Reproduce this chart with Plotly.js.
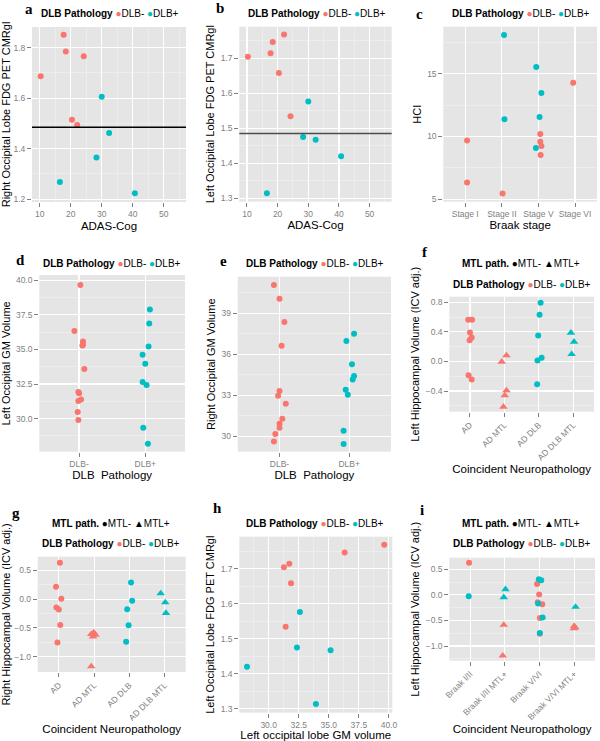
<!DOCTYPE html>
<html><head><meta charset="utf-8">
<script src="https://cdn.plot.ly/plotly-3.0.1.min.js"></script>
<style>html,body{margin:0;padding:0;background:#fff}#chart{width:600px;height:741px}</style>
</head><body><div id="chart"></div>
<script>
// ---------------- DATA ----------------
const RED = '#F8766D', CYAN = '#00BFC4';
// a/b/h : PET subset (DLB- then DLB+)
const adasNeg = [10.3, 17.7, 18.4, 24.2, 20.4, 22.1];
const adasPos = [30.0, 32.4, 28.3, 16.5, 40.7];
const rOccFdgNeg = [1.687, 1.851, 1.785, 1.766, 1.515, 1.494];
const rOccFdgPos = [1.606, 1.462, 1.365, 1.268, 1.224];
const lOccFdgNeg = [1.704, 1.714, 1.746, 1.534, 1.658, 1.768];
const lOccFdgPos = [1.576, 1.467, 1.475, 1.314, 1.420];
const lOccGmPetNeg = [31.27, 31.72, 36.32, 31.41, 31.86, 39.61];
const lOccGmPetPos = [32.60, 35.15, 32.35, 33.93, 28.20];
const fdgThreshold = [1.485];

// c : Braak stage vs HCI
const braakCats = ['Stage I', 'Stage II', 'Stage V', 'Stage VI'];
const cNegCat = ['Stage I','Stage I','Stage II','Stage V','Stage V','Stage V','Stage V','Stage VI'];
const cNegJit = [0.05, 0.05, 0.02, 0.05, 0.05, 0.08, 0.06, -0.05];
const cNegHci = [9.68, 6.33, 5.45, 10.19, 9.57, 9.23, 8.51, 14.28];
const cPosCat = ['Stage II','Stage II','Stage V','Stage V','Stage V','Stage V'];
const cPosJit = [0.06, 0.07, -0.06, 0.08, 0.03, -0.07];
const cPosHci = [18.09, 11.36, 15.53, 13.46, 11.54, 9.07];

// d/e : GM volume by DLB pathology
const dlbCats = ['DLB-', 'DLB+'];
const dNegJit = [0.02, -0.07, 0.06, 0.06, 0.05, 0.08, 0.0, -0.01, 0.03, -0.01, -0.02, -0.01];
const dNegVal = [39.66, 36.34, 35.58, 35.34, 35.29, 33.58, 31.83, 31.92, 31.37, 31.27, 30.48, 29.90];
const dPosJit = [0.07, 0.06, 0.05, -0.04, 0.0, -0.04, 0.02, -0.03, 0.04];
const dPosVal = [37.89, 36.88, 35.22, 34.61, 33.96, 32.64, 32.42, 29.33, 28.17];
const eNegJit = [-0.08, 0.0, 0.07, 0.03, 0.0, -0.02, 0.09, 0.04, 0.0, 0.0, -0.06, -0.08];
const eNegVal = [41.07, 40.07, 38.37, 36.63, 33.32, 32.98, 32.39, 31.29, 30.93, 30.63, 30.17, 29.63];
const ePosJit = [0.07, -0.04, 0.04, 0.07, 0.05, -0.05, -0.02, -0.08, -0.08];
const ePosVal = [37.51, 36.98, 35.27, 34.41, 34.17, 33.41, 33.05, 30.41, 29.44];

// f/g : Coincident neuropathology
const neuroCats = ['AD', 'AD MTL', 'AD DLB', 'AD DLB MTL'];
const fNegMtlNegCat = ['AD','AD','AD','AD','AD','AD','AD'];
const fNegMtlNegJit = [-0.05, 0.06, 0.0, 0.05, -0.01, -0.04, 0.05];
const fNegMtlNegVal = [0.565, 0.565, 0.393, 0.325, 0.289, -0.185, -0.244];
const fNegMtlPosCat = ['AD MTL','AD MTL','AD MTL','AD MTL','AD MTL'];
const fNegMtlPosJit = [0.06, -0.08, 0.06, 0.01, -0.03];
const fNegMtlPosVal = [0.081, -0.005, -0.392, -0.46, -0.613];
const fPosMtlNegCat = ['AD DLB','AD DLB','AD DLB','AD DLB','AD DLB','AD DLB'];
const fPosMtlNegJit = [0.05, 0.02, -0.02, 0.08, -0.04, -0.05];
const fPosMtlNegVal = [0.794, 0.631, 0.352, 0.05, 0.014, -0.307];
const fPosMtlPosCat = ['AD DLB MTL','AD DLB MTL','AD DLB MTL'];
const fPosMtlPosJit = [-0.07, 0.02, -0.05];
const fPosMtlPosVal = [0.388, 0.266, 0.099];

const gNegMtlNegCat = ['AD','AD','AD','AD','AD','AD','AD'];
const gNegMtlNegJit = [0.03, -0.08, 0.07, -0.07, 0.0, 0.04, -0.04];
const gNegMtlNegVal = [0.633, 0.214, 0.006, -0.145, -0.18, -0.448, -0.753];
const gNegMtlPosCat = ['AD MTL','AD MTL','AD MTL','AD MTL','AD MTL'];
const gNegMtlPosJit = [-0.01, -0.08, 0.04, -0.03, -0.08];
const gNegMtlPosVal = [-0.58, -0.61, -0.62, -0.65, -1.17];
const gPosMtlNegCat = ['AD DLB','AD DLB','AD DLB','AD DLB','AD DLB'];
const gPosMtlNegJit = [0.05, 0.08, -0.06, -0.02, -0.09];
const gPosMtlNegVal = [0.29, -0.03, -0.174, -0.452, -0.741];
const gPosMtlPosCat = ['AD DLB MTL','AD DLB MTL','AD DLB MTL'];
const gPosMtlPosJit = [-0.11, 0.02, 0.04];
const gPosMtlPosVal = [0.098, -0.058, -0.243];

// i : Braak / MTL groups
const braakMtlCats = ['Braak I/II', 'Braak I/II MTL+', 'Braak V/VI', 'Braak V/VI MTL+'];
const iNegMtlNegCat = ['Braak I/II','Braak V/VI','Braak V/VI','Braak V/VI','Braak V/VI','Braak V/VI','Braak V/VI'];
const iNegMtlNegJit = [-0.03, -0.07, -0.01, -0.05, 0.08, 0.01, 0.01];
const iNegMtlNegVal = [0.63, 0.215, 0.007, -0.143, -0.183, -0.45, -0.76];
const iNegMtlPosCat = ['Braak I/II MTL+','Braak I/II MTL+','Braak V/VI MTL+','Braak V/VI MTL+','Braak V/VI MTL+'];
const iNegMtlPosJit = [-0.03, -0.06, 0.0, -0.01, 0.03];
const iNegMtlPosVal = [-0.587, -1.19, -0.61, -0.655, -0.64];
const iPosMtlNegCat = ['Braak I/II','Braak V/VI','Braak V/VI','Braak V/VI','Braak V/VI','Braak V/VI'];
const iPosMtlNegJit = [-0.04, -0.02, 0.05, -0.04, 0.09, 0.01];
const iPosMtlNegVal = [-0.026, 0.306, 0.287, -0.17, -0.443, -0.743];
const iPosMtlPosCat = ['Braak I/II MTL+','Braak I/II MTL+','Braak V/VI MTL+'];
const iPosMtlPosJit = [0.02, -0.03, 0.04];
const iPosMtlPosVal = [0.11, -0.046, -0.235];

// ---------------- BUILD ----------------
const W = 600, H = 741;
const FONT = '"Liberation Sans", Arial, sans-serif';
const traces = [];
const layout = {
  width: W, height: H, margin: {l:0, r:0, t:0, b:0},
  paper_bgcolor: '#ffffff', plot_bgcolor: '#E5E5E5',
  font: {family: FONT, size: 9, color: '#000'},
  showlegend: false, annotations: [], shapes: []
};

function catX(cats, catList, jit) {
  return cats.map((c, k) => catList.indexOf(c) + 1 + jit[k]);
}
function pts(p, xs, ys, color, symbol) {
  traces.push({
    type: 'scatter', mode: 'markers', x: xs, y: ys,
    xaxis: p === 1 ? 'x' : 'x' + p, yaxis: p === 1 ? 'y' : 'y' + p,
    marker: {color: color, size: symbol === 'triangle-up' ? 7.5 : 6, symbol: symbol || 'circle', line: {width: 0}},
    showlegend: false, hoverinfo: 'skip', cliponaxis: false
  });
}
function baseAxis(extra) {
  return Object.assign({
    showgrid: true, gridcolor: '#FFFFFF', gridwidth: 1.1, zeroline: false, showline: false,
    ticks: 'outside', ticklen: 4, tickwidth: 1, tickcolor: '#7F7F7F',
    tickfont: {family: FONT, size: 8.5, color: '#7F7F7F'}, fixedrange: true
  }, extra);
}
function minor(dt, t0) {
  return {dtick: dt, tick0: t0, showgrid: true, gridcolor: '#F2F2F2', gridwidth: 0.6, ticks: ''};
}
function panel(p, box, xa, ya) {
  const [x0, x1, y0, y1] = box; // pixels: left, right, top, bottom
  const xk = p === 1 ? 'xaxis' : 'xaxis' + p, yk = p === 1 ? 'yaxis' : 'yaxis' + p;
  layout[xk] = baseAxis(Object.assign({domain: [x0 / W, x1 / W], anchor: p === 1 ? 'y' : 'y' + p}, xa));
  layout[yk] = baseAxis(Object.assign({domain: [1 - y1 / H, 1 - y0 / H], anchor: p === 1 ? 'x' : 'x' + p}, ya));
}
function xt(t) { return {text: t, font: {family: FONT, size: 11.5, color: '#000'}, standoff: 3}; }
function yt(t) { return {text: t, font: {family: FONT, size: 11, color: '#000'}, standoff: 3}; }
function catAxis(list, rot) {
  const o = {tickmode: 'array', tickvals: list.map((_, k) => k + 1), ticktext: list, range: [0.4, list.length + 0.6]};
  if (rot) o.tickangle = -45;
  return o;
}
function label(letter, x, y) {
  layout.annotations.push({text: '<b>' + letter + '</b>', x: x / W, y: 1 - y / H, xref: 'paper', yref: 'paper',
    showarrow: false, xanchor: 'center', yanchor: 'middle', font: {family: '"Liberation Serif", serif', size: 15, color: '#000'}});
}
function legendDlb(x, y) {
  layout.annotations.push({
    text: '<b>DLB Pathology</b> <span style="color:' + RED + '">●</span>DLB- <span style="color:' + CYAN + '">●</span>DLB+',
    x: x / W, y: 1 - y / H, xref: 'paper', yref: 'paper', showarrow: false, xanchor: 'center', yanchor: 'middle',
    font: {family: FONT, size: 10, color: '#000'}});
}
function legendMtl(x, y) {
  layout.annotations.push({
    text: '<b>MTL path.</b> ●MTL- ▲MTL+',
    x: x / W, y: 1 - y / H, xref: 'paper', yref: 'paper', showarrow: false, xanchor: 'center', yanchor: 'middle',
    font: {family: FONT, size: 10, color: '#000'}});
}
function hline(p, val, color) {
  layout.shapes.push({type: 'line', xref: (p === 1 ? 'x' : 'x' + p) + ' domain', x0: 0, x1: 1,
    yref: p === 1 ? 'y' : 'y' + p, y0: val, y1: val, line: {color: color, width: 1.6}});
}

// Panel a
panel(1, [32, 186, 27, 202],
  {range: [7.5, 57.2], tick0: 10, dtick: 10, minor: minor(5, 5), title: xt('ADAS-Cog')},
  {range: [1.189, 1.882], tick0: 1.2, dtick: 0.2, tickformat: '.1f', minor: minor(0.1, 1.1), title: yt('Right Occipital Lobe FDG PET CMRgl')});
pts(1, adasNeg, rOccFdgNeg, RED); pts(1, adasPos, rOccFdgPos, CYAN);
hline(1, fdgThreshold[0], '#000000');
label('a', 29, 9); legendDlb(110, 13);

// Panel b
panel(2, [239.3, 391.7, 26.7, 201.7],
  {range: [7.5, 57.2], tick0: 10, dtick: 10, minor: minor(5, 5), title: xt('ADAS-Cog')},
  {range: [1.290, 1.790], tick0: 1.3, dtick: 0.1, tickformat: '.1f', minor: minor(0.05, 1.25), title: yt('Left Occipital Lobe FDG PET CMRgl')});
pts(2, adasNeg, lOccFdgNeg, RED); pts(2, adasPos, lOccFdgPos, CYAN);
hline(2, fdgThreshold[0], '#4D4D4D');
label('b', 220, 8); legendDlb(317, 14);

// Panel c
panel(3, [443.3, 597, 26.7, 201.7],
  Object.assign(catAxis(braakCats, false), {showgrid: true, title: xt('Braak stage')}),
  {range: [4.79, 18.75], tick0: 5, dtick: 5, minor: minor(2.5, 2.5), title: yt('HCI')});
pts(3, catX(cNegCat, braakCats, cNegJit), cNegHci, RED);
pts(3, catX(cPosCat, braakCats, cPosJit), cPosHci, CYAN);
label('c', 419, 14); legendDlb(521, 14);

// Panel d
panel(4, [39.3, 185, 275, 451.7],
  Object.assign(catAxis(dlbCats, false), {title: xt('DLB  Pathology')}),
  {range: [27.6, 40.39], tick0: 30, dtick: 2.5, tickformat: '.1f', minor: minor(1.25, 26.25), title: yt('Left Occipital GM Volume')});
pts(4, dNegJit.map(j => 1 + j), dNegVal, RED);
pts(4, dPosJit.map(j => 2 + j), dPosVal, CYAN);
label('d', 20, 260); legendDlb(112, 263);

// Panel e
panel(5, [237.7, 391, 276.7, 451.7],
  Object.assign(catAxis(dlbCats, false), {title: xt('DLB  Pathology')}),
  {range: [28.88, 41.68], tick0: 30, dtick: 3, minor: minor(1.5, 28.5), title: yt('Right Occipital GM Volume')});
pts(5, eNegJit.map(j => 1 + j), eNegVal, RED);
pts(5, ePosJit.map(j => 2 + j), ePosVal, CYAN);
label('e', 223, 261); legendDlb(315, 263);

// Panel f
panel(6, [449.3, 594, 296.7, 411.7],
  Object.assign(catAxis(neuroCats, true), {title: xt('Coincident Neuropathology')}),
  {range: [-0.68, 0.877], tick0: -0.4, dtick: 0.4, tickformat: '.1f', minor: minor(0.2, -0.6), title: yt('Left Hippocampal Volume (ICV adj.)')});
pts(6, catX(fNegMtlNegCat, neuroCats, fNegMtlNegJit), fNegMtlNegVal, RED);
pts(6, catX(fNegMtlPosCat, neuroCats, fNegMtlPosJit), fNegMtlPosVal, RED, 'triangle-up');
pts(6, catX(fPosMtlNegCat, neuroCats, fPosMtlNegJit), fPosMtlNegVal, CYAN);
pts(6, catX(fPosMtlPosCat, neuroCats, fPosMtlPosJit), fPosMtlPosVal, CYAN, 'triangle-up');
label('f', 425, 252); legendMtl(521, 263); legendDlb(522, 284);

// Panel g
panel(7, [37.7, 185.7, 556.7, 672],
  Object.assign(catAxis(neuroCats, true), {title: xt('Coincident Neuropathology')}),
  {range: [-1.266, 0.737], tick0: -1, dtick: 0.5, tickformat: '.1f', minor: minor(0.25, -1.25), title: yt('Right Hippocampal Volume (ICV adj.)')});
pts(7, catX(gNegMtlNegCat, neuroCats, gNegMtlNegJit), gNegMtlNegVal, RED);
pts(7, catX(gNegMtlPosCat, neuroCats, gNegMtlPosJit), gNegMtlPosVal, RED, 'triangle-up');
pts(7, catX(gPosMtlNegCat, neuroCats, gPosMtlNegJit), gPosMtlNegVal, CYAN);
pts(7, catX(gPosMtlPosCat, neuroCats, gPosMtlPosJit), gPosMtlPosVal, CYAN, 'triangle-up');
label('g', 16, 513); legendMtl(111, 523); legendDlb(111, 543);

// Panel h
panel(8, [239.3, 392.3, 536.7, 712.7],
  {range: [27.56, 40.28], tick0: 30, dtick: 2.5, tickformat: '.1f', minor: minor(1.25, 26.25), title: xt('Left occipital lobe GM volume')},
  {range: [1.289, 1.791], tick0: 1.3, dtick: 0.1, tickformat: '.1f', minor: minor(0.05, 1.25), title: yt('Left Occipital Lobe FDG PET CMRgl')});
pts(8, lOccGmPetNeg, lOccFdgNeg, RED); pts(8, lOccGmPetPos, lOccFdgPos, CYAN);
label('h', 217, 508); legendDlb(315, 523);

// Panel i
panel(9, [449.3, 595, 557.7, 660.7],
  Object.assign(catAxis(braakMtlCats, true), {title: xt('Coincident Neuropathology')}),
  {range: [-1.287, 0.728], tick0: -1, dtick: 0.5, tickformat: '.1f', minor: minor(0.25, -1.25), title: yt('Left Hippocampal Volume (ICV adj.)')});
pts(9, catX(iNegMtlNegCat, braakMtlCats, iNegMtlNegJit), iNegMtlNegVal, RED);
pts(9, catX(iNegMtlPosCat, braakMtlCats, iNegMtlPosJit), iNegMtlPosVal, RED, 'triangle-up');
pts(9, catX(iPosMtlNegCat, braakMtlCats, iPosMtlNegJit), iPosMtlNegVal, CYAN);
pts(9, catX(iPosMtlPosCat, braakMtlCats, iPosMtlPosJit), iPosMtlPosVal, CYAN, 'triangle-up');
label('i', 422, 510); legendMtl(521, 523); legendDlb(522, 543);

Plotly.newPlot('chart', traces, layout, {staticPlot: true, displayModeBar: false});
</script></body></html>
